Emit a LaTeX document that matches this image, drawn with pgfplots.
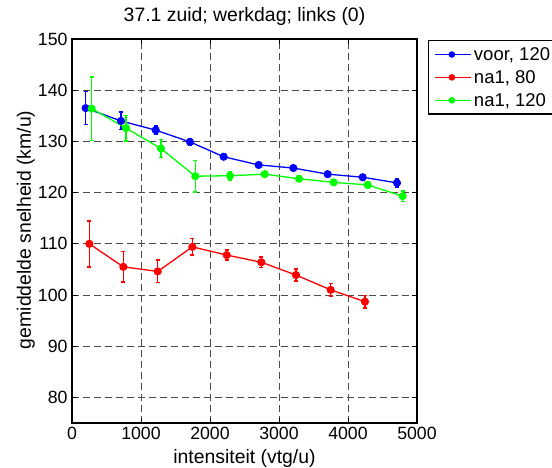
\documentclass[border=0pt]{standalone}
\usepackage{pgfplots}
\pgfplotsset{compat=1.18}
\usepackage{fontspec}
\setmainfont{Liberation Sans}

\definecolor{mblue}{rgb}{0,0,1}
\definecolor{mred}{rgb}{1,0,0}
\definecolor{mgreen}{rgb}{0,1,0}

\newcommand{\ticksize}{\fontsize{17.7bp}{20bp}\selectfont}
\newcommand{\legsize}{\fontsize{18.5bp}{21bp}\selectfont}
\newcommand{\labsize}{\fontsize{19.4bp}{22bp}\selectfont}

% series style: coloured line, filled circles, capped vertical error bars
\pgfplotsset{
  series/.style={
    color=#1, line width=1.3bp, mark=*, mark size=3.4bp,
    mark options={fill=#1, solid},
    error bars/.cd,
      y dir=both, y explicit,
      error bar style={color=#1, line width=1.6bp, solid},
      error mark options={color=#1, rotate=90, mark size=2bp, line width=1.5bp, solid},
  },
}

\begin{document}
\begin{tikzpicture}
\begin{axis}[
  at={(72bp,45bp)}, anchor=south west,
  scale only axis,
  width=345bp, height=384bp,
  xmin=0, xmax=5000, ymin=75, ymax=150,
  xtick={0,1000,2000,3000,4000,5000},
  ytick={80,90,100,110,120,130,140,150},
  scaled x ticks=false,
  /pgf/number format/assume math mode=true,
  /pgf/number format/1000 sep={},
  tick label style={font=\ticksize},
  xticklabel style={yshift=-1bp},
  yticklabel style={xshift=-1bp},
  tick align=inside,
  major tick length=5bp,
  tick style={black, line width=0.8bp},
  axis line style={black, line width=1.5bp},
  grid=major,
  major grid style={black!70, line width=0.7bp, dash pattern=on 6.5bp off 4.5bp},
  title={37.1 zuid; werkdag; links (0)},
  title style={font=\labsize, at={(axis description cs:0.5,1.042)}, anchor=center},
  xlabel={intensiteit (vtg/u)},
  xlabel style={font=\labsize, at={(axis description cs:0.5,-0.092)}, anchor=center},
  ylabel={gemiddelde snelheid (km/u)},
  ylabel style={font=\labsize, at={(axis description cs:-0.134,0.503)}, anchor=center, rotate=0},
  legend style={at={(axis description cs:1.032,0.997)}, anchor=north west,
    draw=black, line width=1.3bp, font=\legsize, inner xsep=6bp, inner ysep=4.5bp,
    row sep=4.5bp, cells={anchor=west}},
  legend cell align=left,
  legend image code/.code={
    \path (0bp,0bp) -- (36bp,0bp);
    \draw[#1, line width=1.3bp] (0bp,0bp) -- (33bp,0bp);
    \fill[#1] (16.5bp,0bp) circle (2.6bp);
  },
]
\addplot[series=mblue] coordinates {
  (198,136.5) +- (0,3.2)
  (710,134.0) +- (0,1.7)
  (1213,132.2) +- (0,0.8)
  (1710,129.9) +- (0,0.6)
  (2198,127.0) +- (0,0.5)
  (2705,125.4) +- (0,0.5)
  (3208,124.8) +- (0,0.5)
  (3705,123.6) +- (0,0.5)
  (4213,123.0) +- (0,0.5)
  (4710,121.9) +- (0,0.8)
};
\addlegendentry{voor, 120}
\addplot[series=mred] coordinates {
  (251,110.0) +- (0,4.5)
  (744,105.5) +- (0,3.0)
  (1242,104.6) +- (0,2.2)
  (1744,109.4) +- (0,1.6)
  (2242,107.8) +- (0,1.0)
  (2744,106.4) +- (0,1.0)
  (3246,103.9) +- (0,1.2)
  (3749,101.0) +- (0,1.2)
  (4246,98.7) +- (0,1.2)
};
\addlegendentry{na1, 80}
\addplot[series=mgreen] coordinates {
  (285,136.4) +- (0,6.2)
  (783,132.6) +- (0,2.5)
  (1290,128.6) +- (0,1.75)
  (1787,123.2) +- (0,3.1)
  (2290,123.3) +- (0,0.8)
  (2792,123.6) +- (0,0.5)
  (3290,122.7) +- (0,0.5)
  (3792,122.0) +- (0,0.5)
  (4285,121.5) +- (0,0.6)
  (4792,119.3) +- (0,1.0)
};
\addlegendentry{na1, 120}
\end{axis}
\pgfresetboundingbox
\useasboundingbox (0bp,0bp) rectangle (552bp,468bp);
\end{tikzpicture}
\end{document}
